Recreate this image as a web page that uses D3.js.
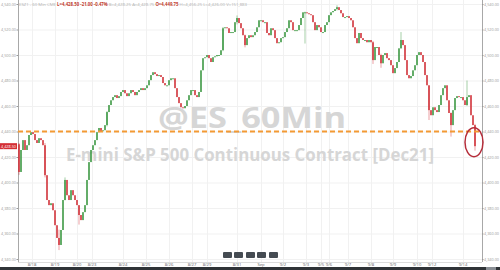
<!DOCTYPE html>
<html>
<head>
<meta charset="utf-8">
<script src="https://cdn.jsdelivr.net/npm/d3@7"></script>
<style>
  body { margin: 0; background: #fff; }
  svg { display: block; font-family: "Open Sans", "DejaVu Sans", sans-serif; }
</style>
</head>
<body>
<div id="chart"></div>
<script>
var firstOpen = 4430;
var closes = [
  4408.25, 4425.5, 4433.25, 4425.5, 4429.25, 4437.25, 4439.5, 4438, 4433.25, 4431,
  4434.75, 4433.25, 4429.25, 4405.75, 4386.25, 4382.25, 4383.75, 4378.25, 4366.5, 4356.5,
  4351, 4362.75, 4386.25, 4402, 4390, 4386.25, 4394, 4390, 4386.25, 4382.25,
  4374.5, 4370.5, 4376.75, 4382.25, 4402, 4416, 4425.5, 4429.25, 4433.25, 4439.5,
  4442.75, 4440.25, 4441, 4445, 4455.25, 4460.75, 4464.5, 4467, 4468.5, 4466.25,
  4467.75, 4471, 4472.5, 4470, 4467.75, 4470, 4472.5, 4471, 4468.5, 4471,
  4472.5, 4474, 4472.5, 4474, 4476.25, 4480.25, 4484.25, 4486.5, 4485, 4483.5,
  4484.25, 4482.75, 4478, 4476.25, 4476.25, 4480.25, 4481.75, 4481.75, 4474, 4467,
  4462.25, 4459, 4458.25, 4460, 4464.5, 4468.5, 4472.5, 4472.5, 4468.5, 4467,
  4471, 4488, 4497.5, 4498.25, 4500, 4497.5, 4494.5, 4498.25, 4499, 4500,
  4500, 4503.75, 4521, 4521.75, 4521, 4517.25, 4518, 4518, 4525.75, 4529,
  4525, 4521, 4515.5, 4507.75, 4513.25, 4515.5, 4514, 4515.5, 4518, 4521.75,
  4527.25, 4527.25, 4525.75, 4525.75, 4517.25, 4515.5, 4521, 4519.5, 4513.25, 4509.25,
  4510, 4513.25, 4514, 4518, 4521, 4527.25, 4525.75, 4519.5, 4519.5, 4519.5,
  4523.5, 4529, 4533.5, 4533.5, 4532.75, 4532, 4531.25, 4525.75, 4519.5, 4523.5,
  4521.75, 4518, 4518, 4523.5, 4525.75, 4531.25, 4533.5, 4534.5, 4536, 4537.5,
  4535.25, 4532.75, 4529.75, 4529.75, 4530.5, 4529, 4527.25, 4521.75, 4513.25, 4509.25,
  4517.25, 4513.25, 4511.75, 4511.75, 4510, 4511.75, 4510, 4496, 4506.25, 4506.25,
  4500, 4493.5, 4500, 4501.5, 4497.5, 4496, 4492, 4485.75, 4489.75, 4494.5,
  4505.25, 4511.75, 4507.75, 4496, 4484.25, 4481.75, 4483.5, 4488, 4492, 4500,
  4502.25, 4500, 4494.5, 4484.25, 4476.25, 4456.75, 4452.75, 4459, 4456.75, 4455.25,
  4460.75, 4468.5, 4474, 4476.25, 4464.5, 4454.5, 4445, 4456.75, 4466.25, 4467.75,
  4467, 4467, 4464.5, 4460.75, 4467, 4468.5, 4452.75, 4445, 4428.5
];
// bars with a visible wick: [index, high, low]
var spikes = [
  [0, 4431, 4406], [13, 4431, 4404], [20, 4363, 4347], [23, 4404, 4386],
  [30, 4382, 4367], [44, 4456, 4444], [102, 4522, 4503], [109, 4531, 4524],
  [113, 4516, 4506], [143, 4534, 4509], [159, 4539, 4535], [177, 4511, 4493],
  [181, 4501, 4490], [191, 4518, 4505], [205, 4476, 4449], [216, 4455, 4436],
  [224, 4480, 4460], [228, 4446, 4425]
];
var yTicks = [4340, 4360, 4380, 4400, 4420, 4440, 4460, 4480, 4500, 4520, 4540];
var dayLabels = ["8/18", "8/19", "8/20", "8/23", "8/24", "8/25", "8/26", "8/27", "8/29", "8/31", "Sep",
                 "9/2", "9/3", "9/5", "9/6", "9/7", "9/8", "9/9", "9/10", "9/12", "9/14"];
var dayIdx = [6.5, 18, 29, 36.5, 52, 63.5, 75, 86.5, 94, 109, 121,
              132, 143.5, 151, 155, 164.5, 176, 187, 199, 206.5, 222];
var supportLevel = 4440;
var lastPrice = 4428.5;

var width = 500, height = 270;
var plotLeft = 18, plotRight = 482, plotBottom = 262;

var svg = d3.select("#chart").append("svg")
    .attr("width", width)
    .attr("height", height);

var x = d3.scaleLinear()
    .domain([0, closes.length - 1])
    .range([19, 475]);

var y = d3.scaleLinear()
    .domain([4340, 4540])
    .range([259, 4]);

var fmt = d3.format(",.2f");

// grid
svg.append("g").selectAll("line")
    .data(yTicks)
    .enter().append("line")
    .attr("x1", plotLeft).attr("x2", plotRight)
    .attr("y1", function(d) { return y(d) + 0.5; })
    .attr("y2", function(d) { return y(d) + 0.5; })
    .attr("stroke", "#f1f1f1");

svg.append("g").selectAll("line")
    .data(dayIdx)
    .enter().append("line")
    .attr("x1", function(d) { return Math.round(x(d)) + 0.5; })
    .attr("x2", function(d) { return Math.round(x(d)) + 0.5; })
    .attr("y1", 0).attr("y2", plotBottom)
    .attr("stroke", "#f1f1f1");

// watermark
svg.append("text")
    .attr("x", 158).attr("y", 128)
    .attr("textLength", 188)
    .attr("lengthAdjust", "spacingAndGlyphs")
    .style("font-size", "29px")
    .style("font-weight", "bold")
    .attr("fill", "#d6d6d6")
    .text("@ES_60Min");

svg.append("text")
    .attr("x", 66).attr("y", 161)
    .attr("textLength", 368)
    .attr("lengthAdjust", "spacingAndGlyphs")
    .style("font-size", "18px")
    .style("font-weight", "bold")
    .attr("fill", "#d6d6d6")
    .text("E-mini S&P 500 Continuous Contract [Dec21]");

// axes frame
svg.append("line")
    .attr("x1", plotLeft + 0.5).attr("x2", plotLeft + 0.5)
    .attr("y1", 0).attr("y2", plotBottom)
    .attr("stroke", "#a8a8a8");
svg.append("line")
    .attr("x1", plotRight + 0.5).attr("x2", plotRight + 0.5)
    .attr("y1", 0).attr("y2", plotBottom)
    .attr("stroke", "#a8a8a8");
svg.append("line")
    .attr("x1", plotLeft).attr("x2", plotRight)
    .attr("y1", plotBottom + 0.5).attr("y2", plotBottom + 0.5)
    .attr("stroke", "#dcdcdc");

var leftAxis = d3.axisLeft(y).tickValues(yTicks).tickFormat(fmt).tickSize(1.5).tickPadding(0.5);
var rightAxis = d3.axisRight(y).tickValues(yTicks).tickFormat(fmt).tickSize(1.5).tickPadding(0.5);

function customAxis(g) {
    g.select(".domain").remove();
    g.selectAll(".tick line").attr("stroke", "#999");
    g.selectAll(".tick text").attr("fill", "#9a9a9a").style("font-size", "3.8px")
      .style("font-family", "'Open Sans', sans-serif");
}

svg.append("g")
    .attr("transform", "translate(" + plotLeft + ",0)")
    .call(leftAxis)
    .call(customAxis);

svg.append("g")
    .attr("transform", "translate(" + plotRight + ",0)")
    .call(rightAxis)
    .call(customAxis);

// date labels
svg.append("g").selectAll("text")
    .data(dayLabels)
    .enter().append("text")
    .attr("x", function(d, i) { return x(dayIdx[i]); })
    .attr("y", 266)
    .attr("text-anchor", "middle")
    .style("font-size", "4.2px")
    .attr("fill", "#666")
    .text(function(d) { return d; });

// bottom bar
svg.append("rect")
    .attr("x", 0).attr("y", 267)
    .attr("width", width).attr("height", 3)
    .attr("fill", "#2f3337");
svg.append("rect")
    .attr("x", 486).attr("y", 267)
    .attr("width", 10).attr("height", 3)
    .attr("fill", "#8a8f95");

// candles
var candles = closes.map(function(c, i) {
    var o = i === 0 ? firstOpen : closes[i - 1];
    return { i: i, open: o, close: c };
});
spikes.forEach(function(s) {
    candles[s[0]].high = s[1];
    candles[s[0]].low = s[2];
});

var up = "#3f9a45", down = "#d2343b";

svg.append("g").selectAll("line")
    .data(candles.filter(function(d) { return d.high !== undefined; }))
    .enter().append("line")
    .attr("x1", function(d) { return x(d.i); })
    .attr("x2", function(d) { return x(d.i); })
    .attr("y1", function(d) { return y(d.high); })
    .attr("y2", function(d) { return y(d.low); })
    .attr("stroke", function(d) { return d.close >= d.open ? up : down; })
    .attr("stroke-opacity", 0.6)
    .attr("stroke-width", 0.8);

svg.append("g").selectAll("rect")
    .data(candles)
    .enter().append("rect")
    .attr("x", function(d) { return x(d.i) - 0.8; })
    .attr("width", 1.6)
    .attr("y", function(d) { return y(Math.max(d.open, d.close)); })
    .attr("height", function(d) { return Math.max(1, Math.abs(y(d.open) - y(d.close))); })
    .attr("fill", function(d) { return d.close >= d.open ? up : down; });

// support line
svg.append("line")
    .attr("x1", plotLeft).attr("x2", plotRight)
    .attr("y1", y(supportLevel)).attr("y2", y(supportLevel))
    .attr("stroke", "#f39a34")
    .attr("stroke-width", 2)
    .attr("stroke-dasharray", "5,3");

// last price tag
svg.append("rect")
    .attr("x", 0).attr("y", y(lastPrice) - 3)
    .attr("width", 17).attr("height", 6)
    .attr("fill", "#d42f35");
svg.append("text")
    .attr("x", 8.5).attr("y", y(lastPrice) + 1.4)
    .attr("text-anchor", "middle")
    .style("font-size", "3.8px")
    .attr("fill", "#fff")
    .text(fmt(lastPrice));

// circle round the last bar
svg.append("ellipse")
    .attr("cx", x(closes.length - 1) - 1)
    .attr("cy", y(lastPrice) - 4)
    .attr("rx", 9).attr("ry", 14.5)
    .attr("fill", "none")
    .attr("stroke", "#b52d3a")
    .attr("stroke-width", 1.5);

// toolbar buttons
svg.append("g").selectAll("rect")
    .data([223, 234, 246, 257, 269])
    .enter().append("rect")
    .attr("x", function(d) { return d; })
    .attr("y", 252)
    .attr("width", 9).attr("height", 6)
    .attr("rx", 1)
    .attr("fill", "#454b52");

// header line
var header = svg.append("text")
    .attr("x", 19).attr("y", 5.5)
    .style("font-size", "4.3px")
    .attr("fill", "#b0b0b0");
header.append("tspan").text("ESZ1 - 60 Min  CME  ");
header.append("tspan").attr("fill", "#c0392b").style("font-weight", "bold").text("L=4,428.50  -21.00  -0.47%");
header.append("tspan").text("   B=4,428.25  A=4,428.75   ");
header.append("tspan").attr("fill", "#c0392b").style("font-weight", "bold").text("O=4,449.75");
header.append("tspan").text("   H=4,456.25   L=4,426.00   V=151,883");
</script>
</body>
</html>
